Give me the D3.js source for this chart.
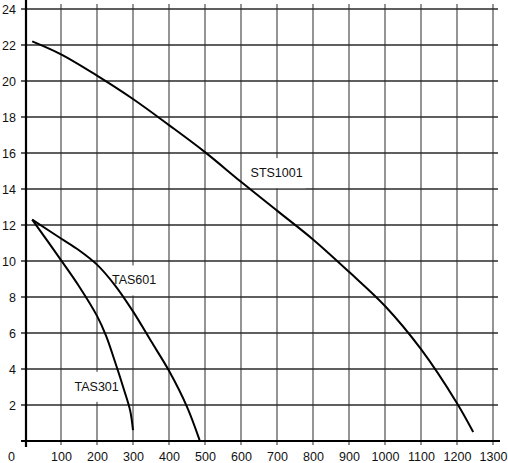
<!DOCTYPE html>
<html>
<head>
<meta charset="utf-8">
<script src="https://cdn.jsdelivr.net/npm/d3@7"></script>
<style>
  body { margin: 0; background: #fff; }
  text { font-family: "Liberation Sans", Arial, sans-serif; font-size: 12.5px; fill: #111; }
</style>
</head>
<body>
<svg width="508" height="463"></svg>
<script>
// flow on x, head on y
var xTicks = [0, 100, 200, 300, 400, 500, 600, 700, 800, 900, 1000, 1100, 1200, 1300];
var yTicks = [2, 4, 6, 8, 10, 12, 14, 16, 18, 20, 22, 24];

var sts1001 = [[20, 22.2], [100, 21.48], [200, 20.3], [300, 19.0], [400, 17.55], [500, 16.05],
               [600, 14.4], [700, 12.8], [800, 11.2], [900, 9.4], [1000, 7.5], [1100, 5.1],
               [1200, 2.1], [1245, 0.5]];
var tas601 = [[20, 12.3], [100, 11.25], [150, 10.6], [200, 9.8], [250, 8.65], [300, 7.2],
              [350, 5.55], [400, 3.9], [450, 1.9], [485, 0.05]];
var tas301 = [[20, 12.3], [100, 10.05], [150, 8.6], [200, 6.95], [225, 5.85], [250, 4.4],
              [275, 2.85], [292, 1.7], [300, 0.6]];

var seriesNames = ["STS1001", "TAS601", "TAS301"];
var labelPos = [[699, 14.9], [303, 8.94], [199, 3.03]];

var svg = d3.select("svg"),
    margin = {top: 9, right: 15, bottom: 22, left: 25},
    width = svg.attr("width") - margin.left - margin.right,
    height = svg.attr("height") - margin.top - margin.bottom;

var x = d3.scaleLinear().domain([0, 1300]).range([0, width]),
    y = d3.scaleLinear().domain([0, 24]).range([height, 0]);

var g = svg.append("g")
    .attr("transform", "translate(" + margin.left + "," + margin.top + ")");

// grid
g.append("g").selectAll("line")
  .data(xTicks.slice(1))
  .enter().append("line")
    .attr("x1", function(d) { return x(d); })
    .attr("x2", function(d) { return x(d); })
    .attr("y1", -5)
    .attr("y2", height + 4)
    .style("stroke", "#7a7a7a")
    .style("stroke-width", 1.6);

g.append("g").selectAll("line")
  .data(yTicks)
  .enter().append("line")
    .attr("x1", -4)
    .attr("x2", width + 5)
    .attr("y1", function(d) { return y(d); })
    .attr("y2", function(d) { return y(d); })
    .style("stroke", "#2a2a2a")
    .style("stroke-width", 1.3);

// labels with white patch behind (under the curves)
var lab = g.selectAll(".label")
  .data(seriesNames)
  .enter().append("g")
    .attr("class", "label");

lab.append("text")
    .attr("x", function(d, i) { return x(labelPos[i][0]); })
    .attr("y", function(d, i) { return y(labelPos[i][1]); })
    .attr("dy", "0.35em")
    .style("text-anchor", "middle")
    .text(function(d) { return d; });

lab.each(function() {
  var t = d3.select(this).select("text");
  var b = t.node().getBBox();
  d3.select(this).insert("rect", "text")
    .attr("x", b.x - 3)
    .attr("y", b.y - 8)
    .attr("width", b.width + 6)
    .attr("height", b.height + 16)
    .style("fill", "#fff");
});

// axes
var xAxis = g.append("g")
    .attr("class", "axis axis--x")
    .attr("transform", "translate(0," + height + ")")
    .call(d3.axisBottom(x).tickValues(xTicks).tickFormat(d3.format("d")).tickSize(0).tickPadding(16));
xAxis.select(".domain").remove();
xAxis.selectAll(".tick text")
    .style("font-family", null).style("font-size", null)
    .attr("dy", "0.35em")
    .attr("x", function(d) { return d === 0 ? -14 : 0; });

var yAxis = g.append("g")
    .attr("class", "axis axis--y")
    .call(d3.axisLeft(y).tickValues(yTicks).tickSize(0).tickPadding(9));
yAxis.select(".domain").remove();
yAxis.selectAll(".tick text")
    .style("font-family", null).style("font-size", null);

g.append("line")
    .attr("x1", 1).attr("x2", 1)
    .attr("y1", -9).attr("y2", height + 6)
    .style("stroke", "#000").style("stroke-width", 2.2);
g.append("line")
    .attr("x1", -4).attr("x2", width + 7)
    .attr("y1", height).attr("y2", height)
    .style("stroke", "#000").style("stroke-width", 2.2);

// curves
var line = d3.line()
    .curve(d3.curveCatmullRom.alpha(0.5))
    .x(function(d) { return x(d[0]); })
    .y(function(d) { return y(d[1]); });

var curves = [sts1001, tas601, tas301];
g.selectAll(".curve")
  .data(curves)
  .enter().append("path")
    .attr("class", "curve")
    .attr("d", line)
    .style("fill", "none")
    .style("stroke", "#000")
    .style("stroke-width", 2);
</script>
</body>
</html>
